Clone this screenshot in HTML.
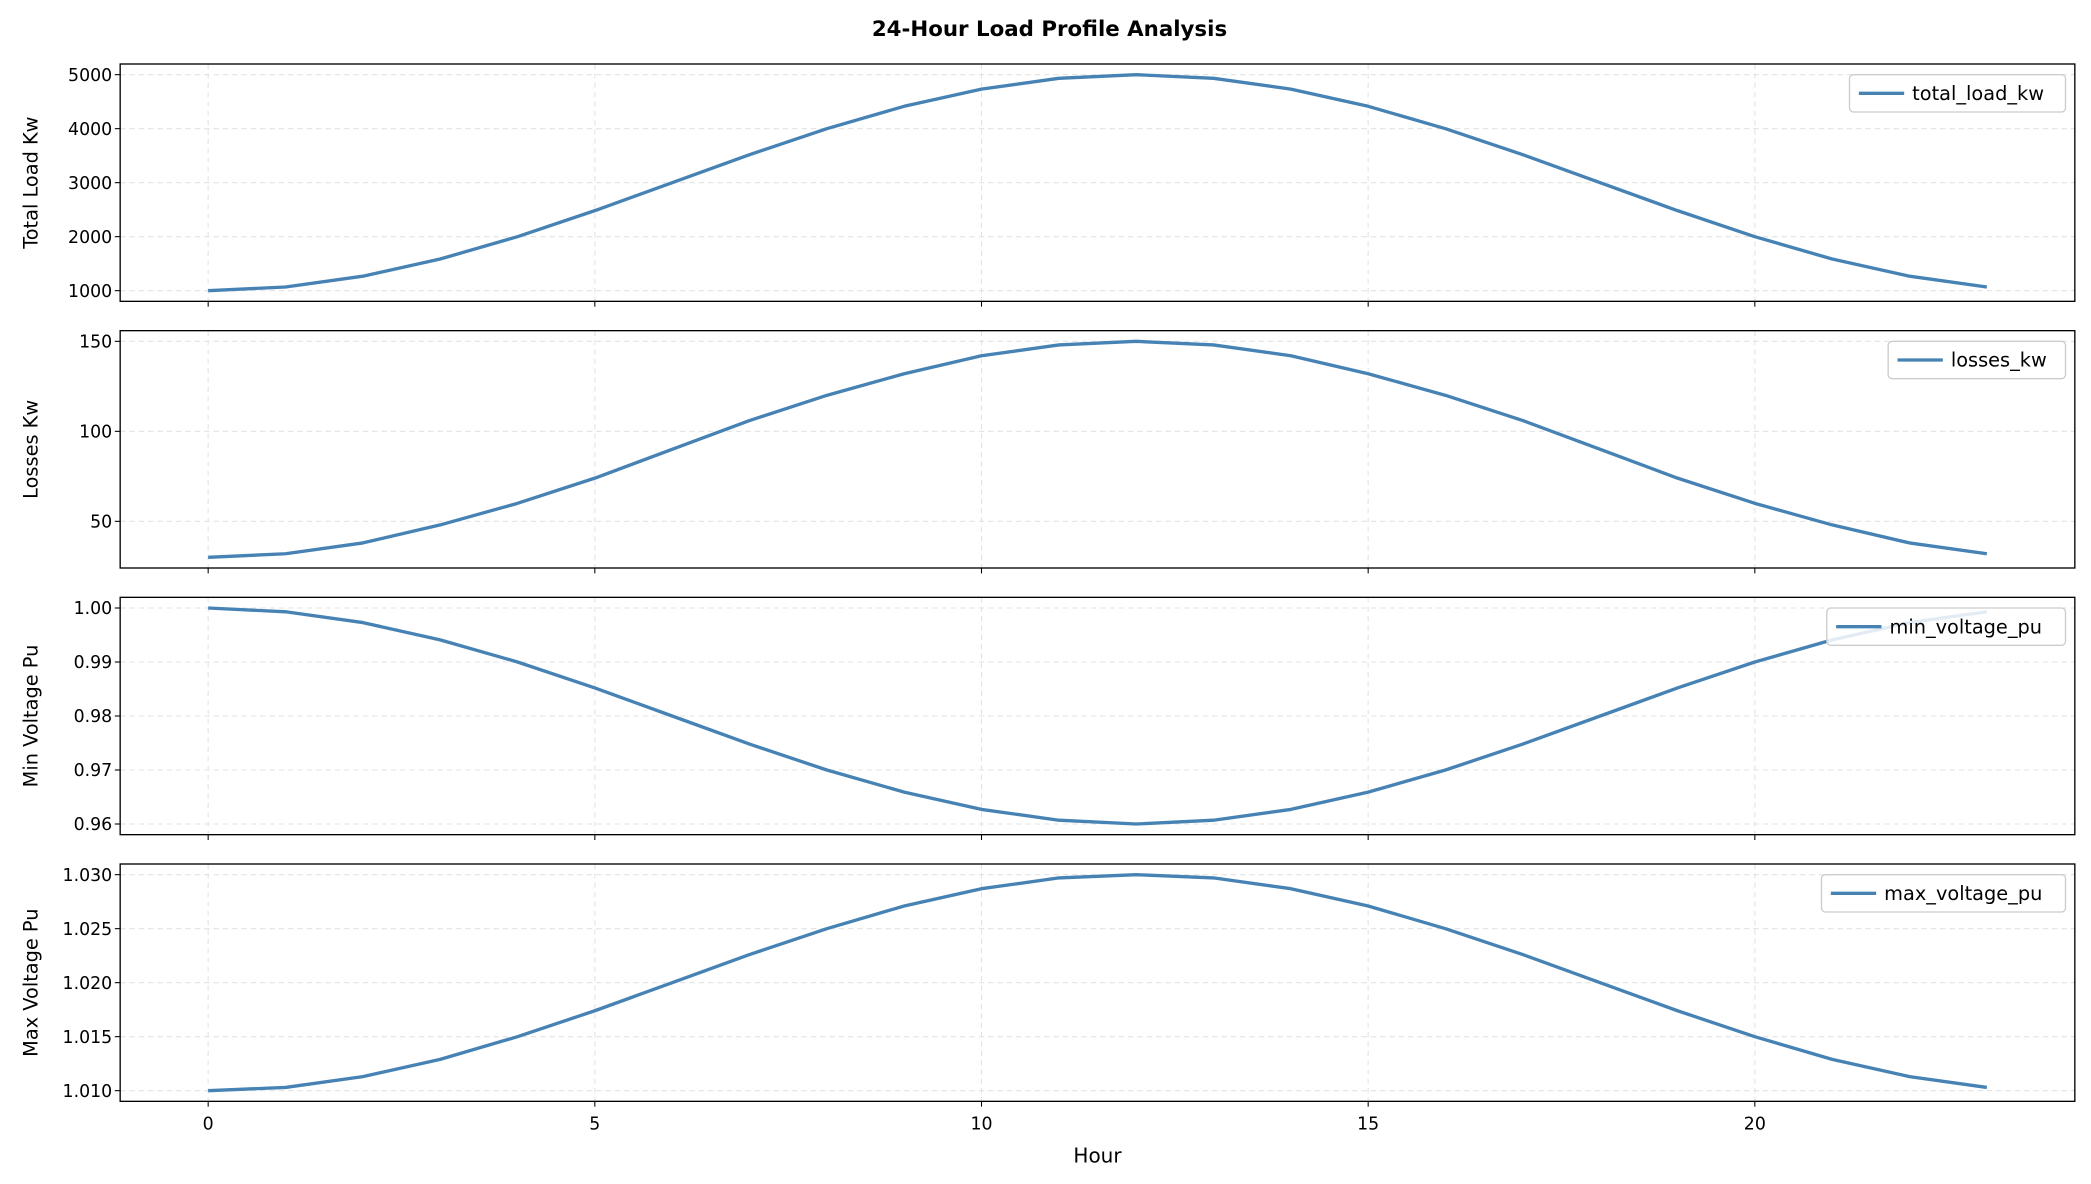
<!DOCTYPE html>
<html><head><meta charset="utf-8"><style>
html,body{margin:0;padding:0;background:#fff}
svg{display:block;font-family:"DejaVu Sans","Liberation Sans",sans-serif}
</style></head><body>
<svg id="c" width="2091" height="1184" viewBox="0 0 1568 888">
<text x="787" y="27" text-anchor="middle" font-size="16" font-weight="bold">24-Hour Load Profile Analysis</text>
<text x="823" y="872" text-anchor="middle" font-size="15">Hour</text>
</svg>
<script>
const hours = [0,1,2,3,4,5,6,7,8,9,10,11,12,13,14,15,16,17,18,19,20,21,22,23];
const totalLoad = [1000,1068,1268,1586,2000,2482,3000,3518,4000,4414,4732,4932,5000,4932,4732,4414,4000,3518,3000,2482,2000,1586,1268,1068];
const losses = [30,32,38,48,60,74,90,106,120,132,142,148,150,148,142,132,120,106,90,74,60,48,38,32];
const minVoltage = [1.000,0.9993,0.9973,0.9941,0.990,0.9852,0.980,0.9748,0.970,0.9659,0.9627,0.9607,0.960,0.9607,0.9627,0.9659,0.970,0.9748,0.980,0.9852,0.990,0.9941,0.9973,0.9993];
const maxVoltage = [1.010,1.0103,1.0113,1.0129,1.015,1.0174,1.020,1.0226,1.025,1.0271,1.0287,1.0297,1.030,1.0297,1.0287,1.0271,1.025,1.0226,1.020,1.0174,1.015,1.0129,1.0113,1.0103];
const xTicks = [0,5,10,15,20];
const ticks1 = [1000,2000,3000,4000,5000];
const ticks2 = [50,100,150];
const ticks3 = [0.96,0.97,0.98,0.99,1.00];
const ticks4 = [1.010,1.015,1.020,1.025,1.030];

const NS = "http://www.w3.org/2000/svg";
const svg = document.getElementById('c');
const L = 90, R = 1556;
const x = h => 156 + (h - 0) * (1490 - 156) / 23;
function el(tag, attrs, parent) {
  const e = document.createElementNS(NS, tag);
  for (const k in attrs) e.setAttribute(k, attrs[k]);
  (parent || svg).appendChild(e);
  return e;
}
const panels = [
  {top:48, data: totalLoad, ticks: ticks1, lo:1000, hi:5000, plo:218, phi:56, fmt:v=>String(v), label:'Total Load Kw', legend:'total_load_kw', lx:1387, key:'total-load'},
  {top:248, data: losses, ticks: ticks2, lo:50, hi:150, plo:391, phi:256, fmt:v=>String(v), label:'Losses Kw', legend:'losses_kw', lx:1416, key:'losses'},
  {top:448, data: minVoltage, ticks: ticks3, lo:0.96, hi:1.00, plo:618, phi:456, fmt:v=>v.toFixed(2), label:'Min Voltage Pu', legend:'min_voltage_pu', lx:1370, key:'min-voltage'},
  {top:648, data: maxVoltage, ticks: ticks4, lo:1.010, hi:1.030, plo:818, phi:656, fmt:v=>v.toFixed(3), label:'Max Voltage Pu', legend:'max_voltage_pu', lx:1366, key:'max-voltage'}
];
panels.forEach((p, i) => {
  const bottom = p.top + 178;
  const y = v => p.plo + (v - p.lo) * (p.phi - p.plo) / (p.hi - p.lo);
  const g = el('g', {});
  
  
  xTicks.forEach(t => {
    const gl = el('line', {x1:x(t), x2:x(t), y1:p.top, y2:bottom, stroke:'#e3e3e3', 'stroke-width':0.8, 'stroke-dasharray':'4,3'}, g);
    
    
    const tk = el('line', {x1:x(t), x2:x(t), y1:bottom, y2:bottom+4, stroke:'#000', 'stroke-width':0.8}, g);
    
    
    if (i === 3) {
      const tl = el('text', {x:x(t), y:bottom+21, 'text-anchor':'middle', 'font-size':13}, g);
      tl.textContent = String(t);
      
      
    }
  });
  p.ticks.forEach(t => {
    const gl = el('line', {x1:L, x2:R, y1:y(t), y2:y(t), stroke:'#e3e3e3', 'stroke-width':0.8, 'stroke-dasharray':'4,3'}, g);
    
    
    const tk = el('line', {x1:L-4, x2:L, y1:y(t), y2:y(t), stroke:'#000', 'stroke-width':0.8}, g);
    
    
    const tl = el('text', {x:L-6, y:y(t)+4.6, 'text-anchor':'end', 'font-size':13}, g);
    tl.textContent = p.fmt(t);
    
    
  });
  const pts = hours.map((h, k) => x(h).toFixed(2) + ',' + y(p.data[k]).toFixed(2)).join(' ');
  const line = el('polyline', {points: pts, fill:'none', stroke:'#4682b4', 'stroke-width':2.5, 'stroke-linejoin':'round'}, g);
  
  
  const frame = el('rect', {x:L, y:p.top, width:R-L, height:178, fill:'none', stroke:'#000', 'stroke-width':1}, g);
  
  
  const yl = el('text', {x:0, y:0, 'text-anchor':'middle', 'font-size':14.5, transform:`translate(28,${p.top+89}) rotate(-90)`}, g);
  yl.textContent = p.label;
  
  
  const lg = el('g', {}, g);
  
  
  el('rect', {x:p.lx, y:p.top+8, width:1549-p.lx, height:28, rx:3, fill:'#fff', 'fill-opacity':0.85, stroke:'#ccc', 'stroke-width':1}, lg);
  const ls = el('line', {x1:p.lx+7, x2:p.lx+41, y1:p.top+22, y2:p.top+22, stroke:'#4682b4', 'stroke-width':2.5}, lg);
  
  
  const lt = el('text', {x:p.lx+47, y:p.top+27, 'font-size':14.5}, lg);
  lt.textContent = p.legend;
  
  
});
</script>
</body></html>
